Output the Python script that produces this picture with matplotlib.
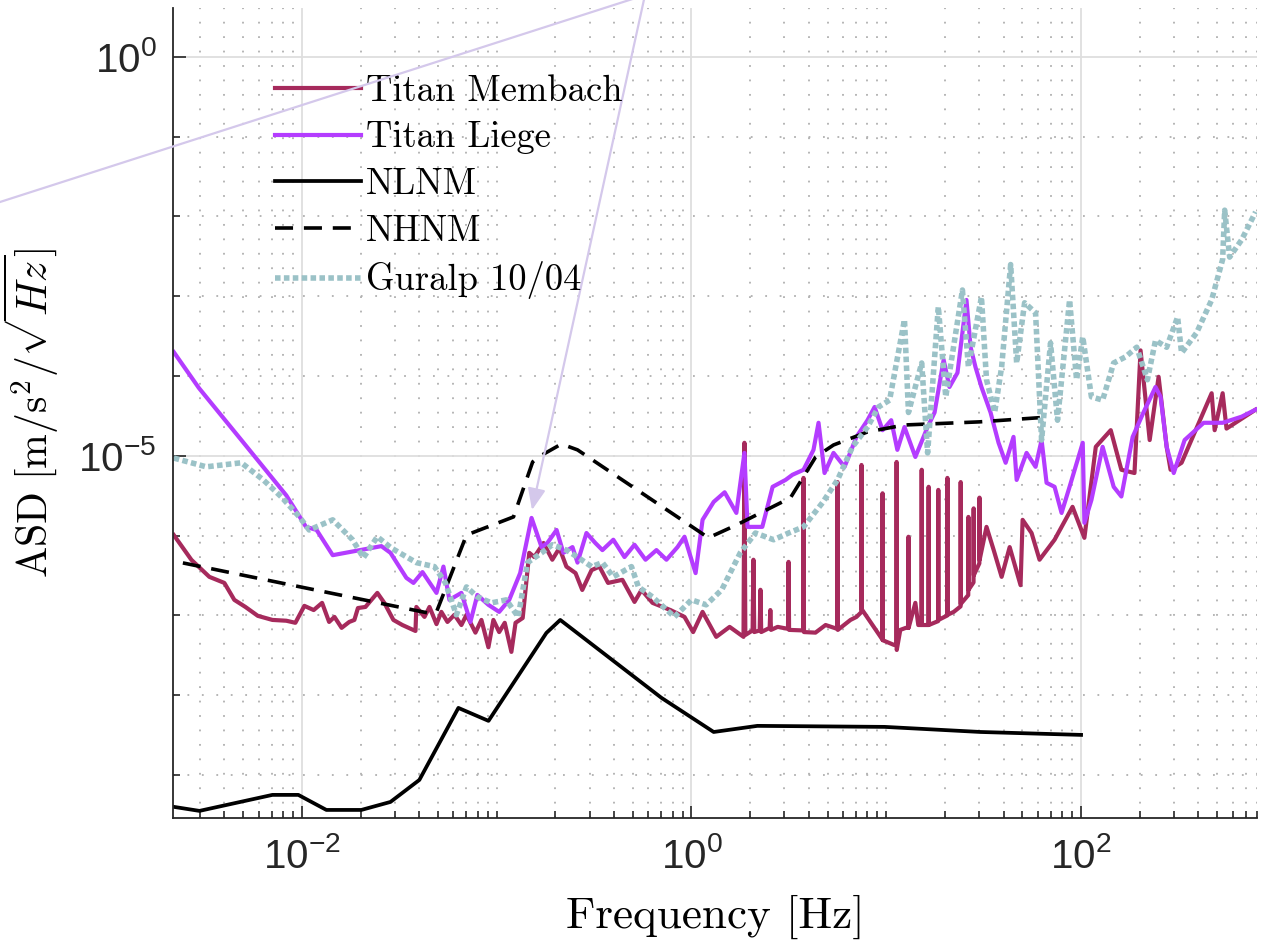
import numpy as np
import matplotlib
matplotlib.use('Agg')
import matplotlib.pyplot as plt
from matplotlib.ticker import FixedLocator, NullFormatter, LogFormatterSciNotation
from matplotlib.lines import Line2D

# tick labels in a Helvetica-like narrow face, labels/legend in Computer Modern
plt.rcParams['font.family'] = ['Liberation Sans Narrow', 'Liberation Sans', 'DejaVu Sans']
plt.rcParams['axes.unicode_minus'] = False

# ---- data (Hz, m/s^2/sqrt(Hz)) ----
membach_f = [0.0022, 0.00271, 0.00335, 0.0040, 0.0045, 0.00513, 0.00594, 0.00706, 0.00832, 0.00926,
             0.0103, 0.0115, 0.0127, 0.0138, 0.0147, 0.0160, 0.0175, 0.0186, 0.0194, 0.0212,
             0.0244, 0.0265, 0.0295, 0.0328, 0.0383, 0.0387, 0.0426, 0.0452, 0.0491, 0.0520,
             0.0559, 0.0607, 0.0659, 0.0700, 0.0778, 0.0835, 0.0907, 0.0962, 0.103, 0.110,
             0.119, 0.125, 0.136, 0.147, 0.156, 0.174, 0.193, 0.210, 0.228, 0.254,
             0.275, 0.307, 0.337, 0.373, 0.442, 0.510, 0.554, 0.631, 0.780, 0.921,
             1.02, 1.14, 1.34, 1.57, 1.85, 1.87, 1.89, 2.06, 2.08, 2.10,
             2.24, 2.26, 2.28, 2.52, 2.54, 2.56, 2.77, 3.13, 3.15, 3.17,
             3.74, 3.76, 3.78, 4.33, 4.88, 5.60, 5.62, 5.64, 6.55, 7.03,
             7.44, 7.46, 7.48, 8.50, 9.55, 9.57, 9.59, 10.9, 11.28, 11.3,
             11.32, 11.8, 12.6, 12.98, 13.0, 13.02, 14.1, 14.6, 15.18, 15.2,
             15.22, 16.48, 16.5, 16.52, 18.46, 18.5, 18.54, 20.56, 20.6, 20.64,
             22.2, 24.06, 24.1, 24.14, 26.35, 26.4, 26.45, 28.05, 28.1, 28.15,
             30.05, 30.1, 30.15, 32.7, 35.6, 39.1, 43.0, 48.9, 50.1, 55.7,
             61.2, 73.1, 90.4, 104, 119, 142, 161, 188, 202, 225,
             250, 275, 288, 328, 468, 485, 533, 558, 787]
membach_asd = [1.02e-6, 4.98e-7, 3.05e-7, 2.56e-7, 1.57e-7, 1.28e-7, 9.9e-8, 8.8e-8, 8.6e-8, 8.1e-8,
               1.32e-7, 1.17e-7, 1.44e-7, 8.3e-8, 9.6e-8, 7.0e-8, 8.3e-8, 8.8e-8, 1.24e-7, 1.28e-7,
               1.92e-7, 1.44e-7, 8.8e-8, 7.6e-8, 6.4e-8, 1.28e-7, 9.6e-8, 1.28e-7, 7.8e-8, 1.11e-7,
               8.3e-8, 1.02e-7, 7.6e-8, 1.02e-7, 6.1e-8, 8.8e-8, 4.0e-8, 8.8e-8, 6.2e-8, 8.1e-8,
               3.5e-8, 8.1e-8, 9.3e-8, 6.1e-7, 5.4e-7, 8.1e-7, 5.0e-7, 7.0e-7, 4.1e-7, 3.4e-7,
               2.09e-7, 3.7e-7, 4.1e-7, 2.56e-7, 2.8e-7, 1.48e-7, 2.09e-7, 1.44e-7, 1.17e-7, 9.6e-8,
               6.2e-8, 1.11e-7, 5.4e-8, 7.2e-8, 5.4e-8, 1.46e-5, 5.7e-8, 6.5e-8, 5.0e-7, 6.2e-8,
               6.5e-8, 2.1e-7, 6.2e-8, 7.0e-8, 1.17e-7, 6.6e-8, 7.2e-8, 6.8e-8, 4.7e-7, 6.6e-8,
               6.5e-8, 5.3e-6, 6.2e-8, 6.1e-8, 7.6e-8, 6.8e-8, 4.7e-6, 6.6e-8, 8.8e-8, 9.6e-8,
               1.1e-7, 7.7e-6, 1.2e-7, 7.6e-8, 5.0e-8, 3.4e-6, 4.9e-8, 4.3e-8, 4.2e-8, 8.4e-6,
               3.7e-8, 6.6e-8, 7.0e-8, 7.0e-8, 9.7e-7, 7.0e-8, 1.44e-7, 7.6e-8, 7.6e-8, 6.7e-6,
               7.6e-8, 7.6e-8, 4.1e-6, 7.6e-8, 8.5e-8, 3.75e-6, 8.8e-8, 1.0e-7, 5.3e-6, 1.02e-7,
               1.11e-7, 1.3e-7, 4.7e-6, 1.4e-7, 1.8e-7, 1.72e-6, 2.1e-7, 2.6e-7, 2.2e-6, 3.2e-7,
               4.5e-7, 3.0e-6, 5.0e-7, 1.29e-6, 6.6e-7, 3.05e-7, 7.2e-7, 2.4e-7, 1.58e-6, 1.08e-6,
               5.0e-7, 8.9e-7, 2.3e-6, 9.4e-7, 1.3e-5, 2.1e-5, 6.7e-6, 6.1e-6, 2.1e-4, 1.58e-5,
               9.8e-5, 1.3e-5, 6.7e-6, 8.2e-6, 6.1e-5, 2.1e-5, 6.1e-5, 2.2e-5, 3.8e-5]

liege_f = [0.0022, 0.00296, 0.00489, 0.00832, 0.0105, 0.0119, 0.0144, 0.0256, 0.0285, 0.0344,
           0.0374, 0.0416, 0.0491, 0.0533, 0.0572, 0.0659, 0.0733, 0.0796, 0.0907, 0.103,
           0.116, 0.132, 0.151, 0.170, 0.182, 0.203, 0.220, 0.245, 0.260, 0.289,
           0.321, 0.349, 0.397, 0.453, 0.510, 0.581, 0.661, 0.744, 0.848, 0.921,
           1.00, 1.05, 1.14, 1.30, 1.48, 1.70, 1.87, 1.94, 2.31, 2.61,
           3.04, 3.30, 3.76, 4.23, 4.49, 4.82, 5.36, 6.11, 7.03, 8.01,
           8.71, 9.57, 10.6, 11.4, 12.4, 14.1, 16.3, 17.7, 19.7, 21.1,
           23.2, 25.8, 27.1, 28.7, 30.8, 34.3, 37.7, 41.0, 45.0, 46.7,
           52.5, 58.4, 62.7, 66.5, 73.1, 79.4, 87.3, 102, 104, 113,
           129, 147, 161, 184, 209, 241, 256, 275, 299, 340,
           426, 533, 667, 787]
liege_asd = [2.0e-4, 7.1e-5, 1.58e-5, 3.2e-6, 1.29e-6, 1.18e-6, 5.7e-7, 7.4e-7, 6.1e-7, 2.96e-7,
             2.56e-7, 3.5e-7, 1.92e-7, 4.1e-7, 1.57e-7, 1.92e-7, 8.3e-8, 1.81e-7, 1.36e-7, 1.11e-7,
             1.57e-7, 3.4e-7, 1.67e-6, 7.2e-7, 8.1e-7, 1.18e-6, 6.1e-7, 7.2e-7, 4.6e-7, 1.08e-6,
             8.1e-7, 6.6e-7, 8.9e-7, 5.4e-7, 7.7e-7, 5.0e-7, 6.6e-7, 5.0e-7, 7.2e-7, 9.7e-7,
             5.0e-7, 3.4e-7, 1.58e-6, 2.65e-6, 3.5e-6, 1.93e-6, 1.09e-5, 1.29e-6, 1.29e-6, 4.1e-6,
             5.0e-6, 5.8e-6, 6.7e-6, 1.19e-5, 2.6e-5, 6.1e-6, 1.09e-5, 7.3e-6, 1.73e-5, 2.8e-5,
             4.1e-5, 2.1e-5, 2.8e-5, 1.19e-5, 2.3e-5, 9.7e-6, 2.3e-5, 3.5e-5, 1.6e-4, 7.3e-5,
             1.1e-4, 9.0e-4, 2.3e-4, 1.3e-4, 7.3e-5, 3.5e-5, 1.46e-5, 8.2e-6, 1.73e-5, 5.0e-6,
             1.09e-5, 7.3e-6, 1.58e-5, 4.6e-6, 4.1e-6, 1.93e-6, 4.1e-6, 1.46e-5, 1.45e-6, 2.8e-6,
             1.3e-5, 4.1e-6, 3.1e-6, 1.73e-5, 3.5e-5, 7.3e-5, 5.5e-5, 1.3e-5, 6.1e-6, 1.58e-5,
             2.6e-5, 2.6e-5, 3.1e-5, 3.8e-5]

nlnm_f = [0.0022, 0.00298, 0.00706, 0.00959, 0.01336, 0.0202, 0.0285, 0.0401, 0.0636,
          0.0908, 0.180, 0.212, 0.701, 1.30, 2.18, 9.80, 30.5, 100]
nlnm_asd = [4.0e-10, 3.56e-10, 5.65e-10, 5.65e-10, 3.66e-10, 3.66e-10, 4.61e-10, 8.7e-10, 6.95e-9,
            4.78e-9, 6.05e-8, 8.8e-8, 9.3e-9, 3.47e-9, 4.14e-9, 4.02e-9, 3.47e-9, 3.19e-9]

nhnm_f = [0.00245, 0.0441, 0.0491, 0.0700, 0.122, 0.153, 0.164, 0.215, 0.260, 1.10,
          1.22, 1.70, 3.22, 4.34, 5.36, 8.02, 12.4, 30.1, 69.7]
nhnm_asd = [4.56e-7, 1.08e-7, 1.11e-7, 1.02e-6, 1.72e-6, 8.4e-6, 9.7e-6, 1.41e-5, 1.19e-5, 1.12e-6,
            9.4e-7, 1.36e-6, 2.98e-6, 9.7e-6, 1.37e-5, 2.0e-5, 2.44e-5, 2.67e-5, 3.08e-5]

guralp_f = [0.0022, 0.00323, 0.00489, 0.00634, 0.00785, 0.00971, 0.0109, 0.0144, 0.0182, 0.0207,
            0.0244, 0.0288, 0.0387, 0.0479, 0.0546, 0.0621, 0.0700, 0.0796, 0.0940, 0.112,
            0.129, 0.144, 0.170, 0.193, 0.228, 0.260, 0.307, 0.349, 0.397, 0.492,
            0.534, 0.631, 0.818, 1.00, 1.19, 1.43, 1.78, 2.13, 2.64, 3.15,
            3.76, 4.71, 5.62, 6.71, 8.01, 9.12, 10.4, 12.4, 13.0, 15.2,
            16.3, 18.5, 20.2, 24.6, 26.4, 30.8, 32.7, 36.0, 39.1, 43.5,
            46.7, 51.3, 58.4, 62.7, 69.7, 75.7, 87.3, 94.8, 102, 113,
            129, 147, 169, 193, 219, 241, 275, 313, 328, 392,
            468, 533, 546, 579, 667, 787]
guralp_asd = [9.4e-6, 7.3e-6, 8.2e-6, 5.0e-6, 3.06e-6, 1.72e-6, 1.18e-6, 1.58e-6, 8.9e-7, 5.3e-7,
              9.7e-7, 7.0e-7, 4.6e-7, 4.1e-7, 2.56e-7, 1.02e-7, 2.28e-7, 1.71e-7, 1.44e-7, 1.57e-7,
              9.6e-8, 4.6e-7, 6.1e-7, 7.7e-7, 6.6e-7, 5.4e-7, 4.1e-7, 4.6e-7, 3.05e-7, 4.1e-7,
              2.28e-7, 1.71e-7, 9.6e-8, 1.57e-7, 1.36e-7, 2.1e-7, 6.1e-7, 1.08e-6, 8.9e-7, 1.08e-6,
              1.29e-6, 2.6e-6, 5.0e-6, 1.3e-5, 2.3e-5, 4.1e-5, 5.0e-5, 5.1e-4, 3.5e-5, 1.46e-4,
              1.09e-5, 7.4e-4, 5.5e-5, 1.2e-3, 1.3e-4, 9.8e-4, 9.0e-5, 3.5e-5, 1.3e-4, 2.5e-3,
              1.46e-4, 8.3e-4, 6.2e-4, 1.58e-5, 2.6e-4, 2.8e-5, 9.0e-4, 9.0e-5, 3.1e-4, 5.5e-5,
              5.0e-5, 1.46e-4, 1.74e-4, 2.3e-4, 9.0e-5, 2.8e-4, 2.3e-4, 5.5e-4, 1.95e-4, 3.5e-4,
              9.0e-4, 2.9e-3, 1.2e-2, 3.1e-3, 5.1e-3, 1.14e-2]

labels = ['Titan Membach', 'Titan Liege', 'NLNM', 'NHNM', 'Guralp 10/04']

# ---- figure ----
fig = plt.figure(figsize=(12.66, 9.49), dpi=100)
ax = fig.add_axes([173/1266, 131/949, 1084/1266, 810/949])

ax.loglog(membach_f, membach_asd, color='#A62A5C', lw=3.0, label=labels[0])
ax.loglog(liege_f, liege_asd, color='#B43CFF', lw=3.0, label=labels[1])
ax.loglog(nlnm_f, nlnm_asd, color='k', lw=2.7, label=labels[2])
ax.loglog(nhnm_f, nhnm_asd, color='k', lw=2.6, ls=(0, (5, 3)), label=labels[3])
ax.loglog(guralp_f, guralp_asd, color='#9BC2C7', lw=4.0, ls=(0, (1, 0.6)),
          dash_capstyle='butt', label=labels[4])

ax.set_xlim(2.18e-3, 800)
ax.set_ylim(2.9e-10, 4.1)

# ticks: MATLAB style
ax.xaxis.set_major_locator(FixedLocator([1e-2, 1e0, 1e2]))
xminor = [m * 10.0**d for d in range(-3, 3) for m in range(1, 10)]
xminor = [v for v in xminor if v not in (1e-2, 1e0, 1e2)]
ax.xaxis.set_minor_locator(FixedLocator(xminor))
ax.yaxis.set_major_locator(FixedLocator([1e-5, 1e0]))
ax.yaxis.set_minor_locator(FixedLocator([10.0**d for d in range(-10, 1) if d not in (-5, 0)]))
ax.xaxis.set_major_formatter(LogFormatterSciNotation())
ax.yaxis.set_major_formatter(LogFormatterSciNotation())
ax.xaxis.set_minor_formatter(NullFormatter())
ax.yaxis.set_minor_formatter(NullFormatter())

ax.tick_params(which='both', direction='in', colors='#262626', width=1.2)
ax.tick_params(which='major', length=9, labelsize=29)
ax.tick_params(which='minor', length=5)
ax.tick_params(axis='x', pad=14)
ax.tick_params(axis='y', pad=12)

for s in ['top', 'right']:
    ax.spines[s].set_visible(False)
for s in ['left', 'bottom']:
    ax.spines[s].set_color('#262626')
    ax.spines[s].set_linewidth(1.3)

ax.grid(which='major', color='#dedede', lw=1.3, ls='-')
ax.grid(which='minor', color='#b0b0b0', lw=1.3, ls=(0, (1, 7)))
ax.set_axisbelow(True)

ax.set_xlabel('Frequency [Hz]', fontfamily='cmr10', fontsize=32.5)
ax.set_ylabel(r'$\mathrm{ASD}\ [\mathrm{m/s^2}/\sqrt{Hz}]$', math_fontfamily='cm', fontsize=30)
ax.xaxis.set_label_coords(0.5, -0.095)
ax.yaxis.set_label_coords(-0.103, 0.5)

leg = ax.legend(loc='upper left', bbox_to_anchor=(0.094, 0.918), frameon=False,
                prop={'family': 'cmr10', 'size': 26.3}, handlelength=2.35,
                handletextpad=0.15, labelspacing=0.37, borderaxespad=0, borderpad=0)

# lavender annotation arrow (drawn in figure space, runs off the top edge)
arrow_c = '#D4C8EB'
fig.add_artist(Line2D([0, 645/1266], [1 - 202/949, 1 + 5/949],
                      transform=fig.transFigure, color=arrow_c, lw=1.6))
ax.annotate('', xy=(532/1266, 1 - 510/949), xytext=(645/1266, 1 + 5/949),
            xycoords='figure fraction', textcoords='figure fraction',
            arrowprops=dict(arrowstyle='-|>,head_length=0.65,head_width=0.27',
                            mutation_scale=20, color=arrow_c, lw=1.6,
                            shrinkA=0, shrinkB=0),
            annotation_clip=False)

fig.savefig('out.png', dpi=100)
